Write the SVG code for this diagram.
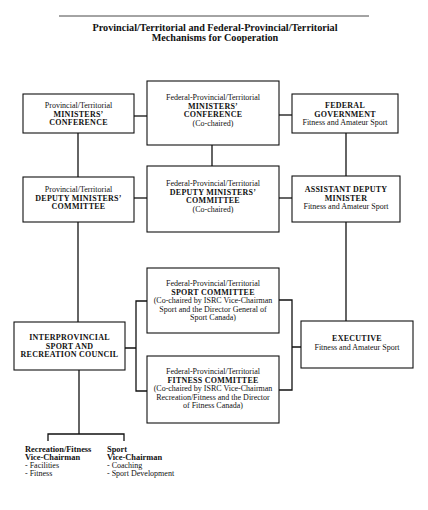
<svg xmlns="http://www.w3.org/2000/svg" width="428" height="510" viewBox="0 0 428 510">
<style>
.box{fill:#fff;stroke:#111;stroke-width:1.1}
.ln{fill:none;stroke:#111;stroke-width:1.3}
text{font-family:"Liberation Serif","Times New Roman",serif;fill:#111;text-anchor:middle}
.n{font-size:8px}
.b{font-size:8px;font-weight:bold;letter-spacing:0.25px}
.t{font-size:10.2px;font-weight:bold}
.l{text-anchor:start}
.bb{font-size:8.4px;font-weight:bold}
</style>
<rect width="428" height="510" fill="#fff"/>
<g id="title">
<line x1="59" y1="16" x2="369" y2="16" stroke="#333" stroke-width="0.9"/>
<text class="t" x="215" y="31">Provincial/Territorial and Federal-Provincial/Territorial</text>
<text class="t" x="215" y="40.5">Mechanisms for Cooperation</text>
</g>
<g id="connectors">
<line class="ln" x1="134" y1="116" x2="147" y2="116"/>
<line class="ln" x1="279" y1="115" x2="292" y2="115"/>
<line class="ln" x1="212" y1="145" x2="212" y2="166"/>
<line class="ln" x1="78" y1="133" x2="78" y2="177"/>
<line class="ln" x1="346" y1="133" x2="346" y2="176"/>
<line class="ln" x1="134" y1="198" x2="147" y2="198"/>
<line class="ln" x1="279" y1="198" x2="292" y2="198"/>
<line class="ln" x1="78" y1="222" x2="78" y2="322"/>
<line class="ln" x1="346" y1="222" x2="346" y2="321"/>
<path class="ln" d="M125 348H136M147 301H136V391H147"/>
<path class="ln" d="M279 300H292V390H279M292 347H301"/>
<line class="ln" x1="79" y1="370" x2="79" y2="434"/>
<path class="ln" d="M48 441V434H124V441"/>
</g>
<g id="pt-ministers">
<rect class="box" x="23" y="94" width="111" height="39"/>
<text class="n" x="78.5" y="108">Provincial/Territorial</text>
<text class="b" x="78.5" y="116.5">MINISTERS’</text>
<text class="b" x="78.5" y="125">CONFERENCE</text>
</g>
<g id="fpt-ministers">
<rect class="box" x="147" y="81" width="132" height="64"/>
<text class="n" x="213" y="100">Federal-Provincial/Territorial</text>
<text class="b" x="213" y="108.5">MINISTERS’</text>
<text class="b" x="213" y="117">CONFERENCE</text>
<text class="n" x="213" y="125.5">(Co-chaired)</text>
</g>
<g id="federal-government">
<rect class="box" x="292" y="94" width="106" height="39"/>
<text class="b" x="345" y="108">FEDERAL</text>
<text class="b" x="345" y="116.5">GOVERNMENT</text>
<text class="n" x="345" y="125">Fitness and Amateur Sport</text>
</g>
<g id="pt-deputy">
<rect class="box" x="23" y="177" width="111" height="45"/>
<text class="n" x="78.5" y="192">Provincial/Territorial</text>
<text class="b" x="78.5" y="200.5">DEPUTY MINISTERS’</text>
<text class="b" x="78.5" y="209">COMMITTEE</text>
</g>
<g id="fpt-deputy">
<rect class="box" x="147" y="166" width="132" height="66"/>
<text class="n" x="213" y="186">Federal-Provincial/Territorial</text>
<text class="b" x="213" y="194.5">DEPUTY MINISTERS’</text>
<text class="b" x="213" y="203">COMMITTEE</text>
<text class="n" x="213" y="211.5">(Co-chaired)</text>
</g>
<g id="assistant-deputy-minister">
<rect class="box" x="292" y="176" width="108" height="46"/>
<text class="b" x="346" y="192">ASSISTANT DEPUTY</text>
<text class="b" x="346" y="200.5">MINISTER</text>
<text class="n" x="346" y="209">Fitness and Amateur Sport</text>
</g>
<g id="sport-committee">
<rect class="box" x="147" y="268" width="132" height="65"/>
<text class="n" x="213" y="286">Federal-Provincial/Territorial</text>
<text class="b" x="213" y="294.5">SPORT COMMITTEE</text>
<text class="n" x="213" y="303">(Co-chaired by ISRC Vice-Chairman</text>
<text class="n" x="213" y="311.5">Sport and the Director General of</text>
<text class="n" x="213" y="320">Sport Canada)</text>
</g>
<g id="fitness-committee">
<rect class="box" x="147" y="356" width="132" height="67"/>
<text class="n" x="213" y="374">Federal-Provincial/Territorial</text>
<text class="b" x="213" y="382.5">FITNESS COMMITTEE</text>
<text class="n" x="213" y="391">(Co-chaired by ISRC Vice-Chairman</text>
<text class="n" x="213" y="399.5">Recreation/Fitness and the Director</text>
<text class="n" x="213" y="408">of Fitness Canada)</text>
</g>
<g id="isrc">
<rect class="box" x="14" y="322" width="111" height="48"/>
<text class="b" x="69.5" y="340">INTERPROVINCIAL</text>
<text class="b" x="69.5" y="348.5">SPORT AND</text>
<text class="b" x="69.5" y="357">RECREATION COUNCIL</text>
</g>
<g id="executive">
<rect class="box" x="301" y="321" width="112" height="47"/>
<text class="b" x="357" y="341">EXECUTIVE</text>
<text class="n" x="357" y="349.5">Fitness and Amateur Sport</text>
</g>
<g id="recreation-fitness-vc">
<text class="bb l" x="25" y="452">Recreation/Fitness</text>
<text class="bb l" x="25" y="460">Vice-Chairman</text>
<text class="n l" x="25" y="468">- Facilities</text>
<text class="n l" x="25" y="476">- Fitness</text>
</g>
<g id="sport-vc">
<text class="bb l" x="107" y="452">Sport</text>
<text class="bb l" x="107" y="460">Vice-Chairman</text>
<text class="n l" x="107" y="468">- Coaching</text>
<text class="n l" x="107" y="476">- Sport Development</text>
</g>
</svg>
